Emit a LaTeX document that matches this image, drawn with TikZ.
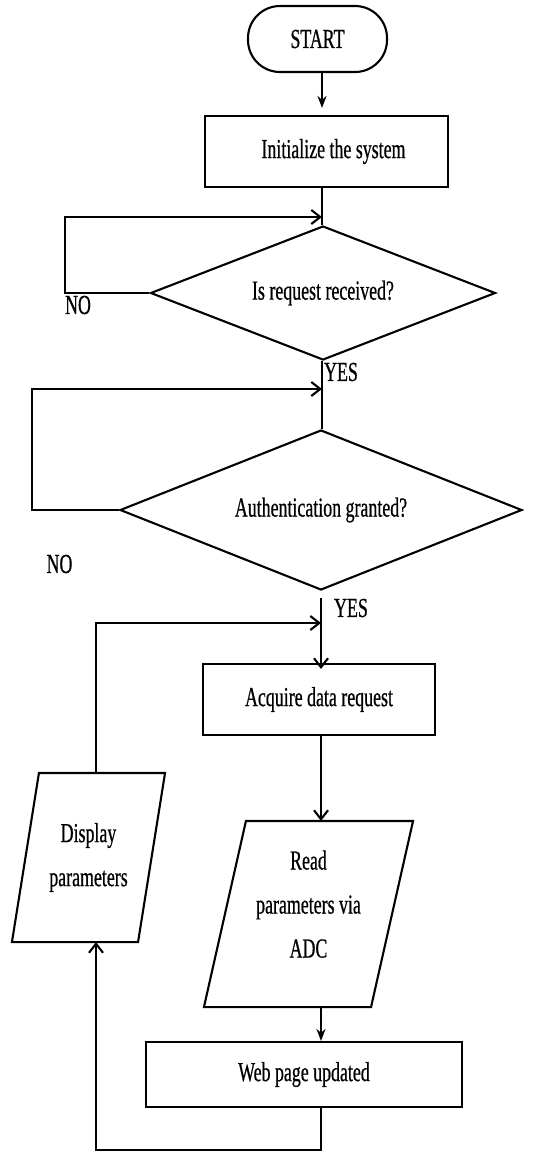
\documentclass[tikz,border=0pt]{standalone}
\usepackage{fontspec}
\setmainfont{Liberation Serif}[FakeStretch=0.65,FakeBold=0.6]
\usetikzlibrary{arrows.meta,shapes.geometric,calc}
\begin{document}
\begin{tikzpicture}[x=1pt,y=-1pt, line width=2.1pt,
  every node/.style={font=\fontsize{27.5}{44}\selectfont},
  box/.style={draw, rectangle, inner sep=0pt},
  term/.style={draw, rectangle, rounded corners=32pt, inner sep=0pt},
  dec/.style={draw, diamond, aspect=2.5, inner sep=0pt},
  para/.style={rectangle, inner sep=0pt, align=center},
  fill arrow/.style={-{Stealth[length=12pt,width=9pt]}},
  open arrow/.style={-{Straight Barb[length=9pt,width=14pt]}},
  lbl/.style={inner sep=0pt}]
\useasboundingbox (0,0) rectangle (538,1152);
% nodes
\node[term, minimum width=139pt, minimum height=66pt] (start) at (317.5,39) {START};
\node[box, minimum width=243pt, minimum height=71pt] (init) at (326.5,151.5) {\hspace*{14pt}Initialize the system};
\node[dec, minimum width=345pt, minimum height=134pt] (d1) at (323,293) {Is request received?};
\node[dec, minimum width=402pt, minimum height=160pt] (d2) at (321,510) {Authentication granted?};
\node[box, minimum width=232pt, minimum height=71pt] (acq) at (319,699.5) {Acquire data request};
\node[para, minimum width=165pt, minimum height=184pt, text depth=20pt] (read) at (308.5,914) {Read\\parameters via\\ADC};
\node[box, minimum width=316pt, minimum height=65pt] (web) at (304,1074.5) {Web page updated};
\node[para, minimum width=124pt, minimum height=167pt] (disp) at (88.5,857.5) {Display\\parameters};
% parallelogram outlines
\draw ([xshift=21pt]read.north west) -- ([xshift=21pt]read.north east) -- ([xshift=-21pt]read.south east) -- ([xshift=-21pt]read.south west) -- cycle;
\draw ([xshift=13.5pt]disp.north west) -- ([xshift=13.5pt]disp.north east) -- ([xshift=-13.5pt]disp.south east) -- ([xshift=-13.5pt]disp.south west) -- cycle;
% labels
\node[lbl] (no1) at (78,305) {NO};
\node[lbl] (yes1) at (341,372) {YES};
\node[lbl] (no2) at (59.5,564) {NO};
\node[lbl] (yes2) at (351,608) {YES};
% junction coordinates
\coordinate (j1) at (322,217);
\coordinate (l1) at (65,217);
\coordinate (j2) at (322,389);
\coordinate (l2) at (32,389);
\coordinate (j3) at (321,623);
\coordinate (l3) at (96,623);
\coordinate (b3) at (96,1150);
% connectors
\draw[fill arrow, shorten >=7pt] (start.south -| j1) -- (init.north -| j1);
\draw (init.south -| j1) -- (j1 |- d1.north);
\draw[open arrow] (d1.west) -| (l1) -- (j1);
\draw (j2 |- d1.south) -- (j2 |- d2.north);
\draw[open arrow] (d2.west) -| (l2) -- (j2);
\draw[open arrow, shorten >=-6pt] ([yshift=-7pt]d2.south) -- (acq.north -| d2.south);
\draw[open arrow] (acq.south -| j3) -- (read.north -| j3);
\draw[fill arrow] (read.south -| j3) -- (web.north -| j3);
\draw[open arrow] (web.south -| j3) -- (j3 |- b3) -- (b3) -- (disp.south -| b3);
\draw[open arrow] (disp.north -| b3) -- (l3) -- (j3);
\end{tikzpicture}
\end{document}
